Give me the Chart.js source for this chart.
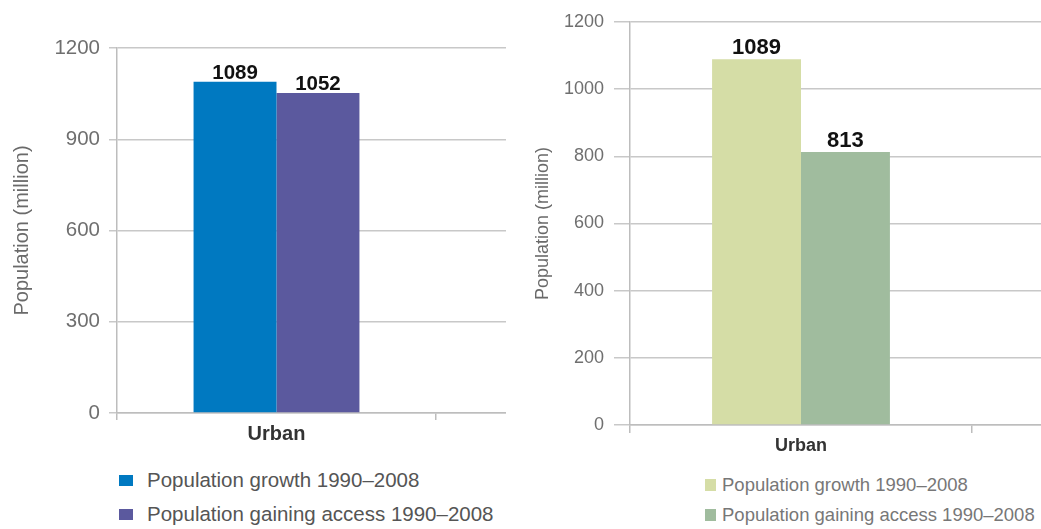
<!DOCTYPE html>
<html>
<head>
<meta charset="utf-8">
<script src="https://cdn.jsdelivr.net/npm/chart.js@4.4.1/dist/chart.umd.min.js"></script>
<style>
  body { margin: 0; width: 1041px; height: 529px; background: #fff; position: relative; overflow: hidden; font-family: Arial, "Liberation Sans", sans-serif; }
  .wrap { position: absolute; top: 0; overflow: hidden; }
  .legend { position: absolute; }
  .legend div { display: flex; align-items: center; white-space: nowrap; }
  .legend span.box { display: inline-block; }
</style>
</head>
<body>
<div class="wrap" id="leftWrap" style="left:0; width:506px; height:460px;">
  <canvas id="leftChart" width="760" height="450"></canvas>
</div>
<div class="wrap" id="rightWrap" style="left:525px; width:516px; height:465px;">
  <canvas id="rightChart" width="795" height="462"></canvas>
</div>
<div class="legend" id="leftLegend" style="left:119px; top:463px; font-size:20.5px; color:#555;"></div>
<div class="legend" id="rightLegend" style="left:705px; top:470px; font-size:18.5px; color:#777;"></div>

<script>
// data
const categories = ['Urban', ''];
const seriesNames = ['Population growth 1990–2008', 'Population gaining access 1990–2008'];
const leftGrowth = [1089, null];
const leftAccess = [1052, null];
const rightGrowth = [1089, null];
const rightAccess = [813, null];
const leftTicks = [0, 300, 600, 900, 1200];
const rightTicks = [0, 200, 400, 600, 800, 1000, 1200];

const leftColors = ['#0079c1', '#5b599e'];
const rightColors = ['#d5dda6', '#a0bc9e'];

// value labels above the bars
const barLabels = {
  id: 'barLabels',
  afterDatasetsDraw(chart, args, opts) {
    const ctx = chart.ctx;
    ctx.save();
    ctx.font = opts.font;
    ctx.fillStyle = '#111';
    ctx.textAlign = 'center';
    ctx.textBaseline = 'alphabetic';
    chart.data.datasets.forEach((ds, i) => {
      chart.getDatasetMeta(i).data.forEach((bar, j) => {
        if (ds.data[j] == null) return;
        ctx.fillText(ds.data[j], bar.x, bar.y - opts.offset);
      });
    });
    ctx.restore();
  }
};

function makeChart(id, growth, access, colors, ticks, s) {
  return new Chart(document.getElementById(id), {
    type: 'bar',
    data: {
      labels: categories,
      datasets: [
        { label: seriesNames[0], data: growth, backgroundColor: colors[0] },
        { label: seriesNames[1], data: access, backgroundColor: colors[1] }
      ]
    },
    plugins: [barLabels],
    options: {
      responsive: false,
      animation: false,
      categoryPercentage: 0.52,
      barPercentage: 1.0,
      layout: { padding: { top: s.top, right: s.right, left: 0, bottom: 0 } },
      plugins: {
        legend: { display: false },
        tooltip: { enabled: false },
        barLabels: { font: 'bold ' + s.labelSize + 'px Arial', offset: s.labelOffset }
      },
      scales: {
        x: {
          afterFit: sc => { sc.height = 37; },
          grid: { drawOnChartArea: false, drawTicks: true, tickLength: s.xTick, color: '#bdbdbd', lineWidth: 1.5 },
          border: { color: '#bdbdbd', width: 1.5 },
          ticks: { color: '#333', padding: 2, font: { family: 'Arial', size: s.urbanSize, weight: 'bold' } }
        },
        y: {
          min: 0,
          max: 1200,
          afterFit: sc => { sc.width = s.yWidth; },
          afterBuildTicks: sc => { sc.ticks = ticks.map(v => ({ value: v })); },
          grid: { color: '#c8c8c8', lineWidth: 1.5, tickLength: s.yTick },
          border: { color: '#bdbdbd', width: 1.5 },
          ticks: {
            color: '#6f6f6f',
            padding: s.yPad,
            font: { family: 'Arial', size: s.tickSize },
            callback: v => String(v)
          },
          title: {
            display: true,
            text: 'Population (million)',
            color: '#6a6a6a',
            padding: { top: s.titlePad, bottom: 0 },
            font: { family: 'Arial', size: s.titleSize }
          }
        }
      }
    }
  });
}

const leftChart = makeChart('leftChart', leftGrowth, leftAccess, leftColors, leftTicks, {
  top: 48, right: 5, yWidth: 117, yTick: 8, yPad: 9, xTick: 7,
  tickSize: 20.5, titleSize: 20, titlePad: 10, urbanSize: 20, labelSize: 20.5, labelOffset: 3
});

const rightChart = makeChart('rightChart', rightGrowth, rightAccess, rightColors, rightTicks, {
  top: 22, right: 6, yWidth: 105, yTick: 16, yPad: 10, xTick: 8,
  tickSize: 18, titleSize: 18, titlePad: 7, urbanSize: 18, labelSize: 22, labelOffset: 5
});

// legends as plain text under each chart
function makeLegend(elId, colors, rowHeight, box) {
  const el = document.getElementById(elId);
  seriesNames.forEach((name, i) => {
    const row = document.createElement('div');
    row.style.height = rowHeight + 'px';
    const sq = document.createElement('span');
    sq.className = 'box';
    sq.style.width = box[0] + 'px';
    sq.style.height = box[1] + 'px';
    sq.style.background = colors[i];
    sq.style.marginRight = box[2] + 'px';
    row.appendChild(sq);
    row.appendChild(document.createTextNode(name));
    el.appendChild(row);
  });
}
makeLegend('leftLegend', leftColors, 34, [14, 11, 14]);
makeLegend('rightLegend', rightColors, 30, [11, 12, 6]);
</script>
</body>
</html>
